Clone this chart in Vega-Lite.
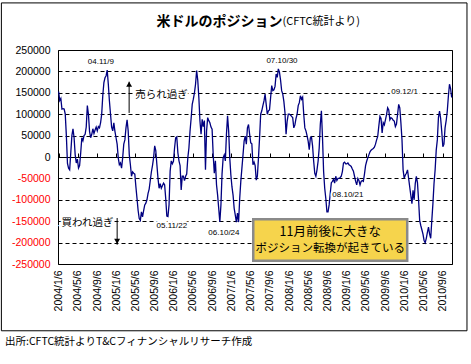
{
"$schema": "https://vega.github.io/schema/vega-lite/v6.json",
"width": 394,
"height": 214,
"autosize": {"type": "none"},
"padding": {"left": 58, "top": 50, "right": 19, "bottom": 100},
"background": "white",
"config": {"view": {"stroke": "black", "strokeWidth": 1}, "font": "Liberation Sans", "axis": {"labelOverlap": false, "labelBound": false, "labelFlush": false}},
"datasets": {
"pos": [
{"date":"2004-01-06","value":153000},{"date":"2004-01-13","value":132000},{"date":"2004-01-20","value":137000},{"date":"2004-01-27","value":112000},{"date":"2004-02-03","value":113000},{"date":"2004-02-10","value":112000},{"date":"2004-02-17","value":100000},{"date":"2004-02-24","value":50000},{"date":"2004-03-02","value":-15000},{"date":"2004-03-09","value":-26000},{"date":"2004-03-16","value":-30000},{"date":"2004-03-23","value":10000},{"date":"2004-03-30","value":50000},{"date":"2004-04-06","value":66000},{"date":"2004-04-13","value":45000},{"date":"2004-04-20","value":5000},{"date":"2004-04-27","value":-14000},{"date":"2004-05-04","value":-5000},{"date":"2004-05-11","value":-26000},{"date":"2004-05-18","value":-20000},{"date":"2004-05-25","value":10000},{"date":"2004-06-01","value":45000},{"date":"2004-06-08","value":38000},{"date":"2004-06-15","value":50000},{"date":"2004-06-22","value":53000},{"date":"2004-06-29","value":70000},{"date":"2004-07-06","value":120000},{"date":"2004-07-13","value":100000},{"date":"2004-07-20","value":60000},{"date":"2004-07-27","value":45000},{"date":"2004-08-03","value":53000},{"date":"2004-08-10","value":66000},{"date":"2004-08-17","value":55000},{"date":"2004-08-24","value":63000},{"date":"2004-08-31","value":70000},{"date":"2004-09-07","value":61000},{"date":"2004-09-14","value":71000},{"date":"2004-09-21","value":68000},{"date":"2004-09-28","value":80000},{"date":"2004-10-05","value":100000},{"date":"2004-10-12","value":144000},{"date":"2004-10-19","value":174000},{"date":"2004-10-26","value":185000},{"date":"2004-11-02","value":190000},{"date":"2004-11-09","value":203000},{"date":"2004-11-16","value":170000},{"date":"2004-11-23","value":131000},{"date":"2004-11-30","value":100000},{"date":"2004-12-07","value":70000},{"date":"2004-12-14","value":61000},{"date":"2004-12-21","value":80000},{"date":"2004-12-28","value":60000},
{"date":"2005-01-04","value":45000},{"date":"2005-01-11","value":30000},{"date":"2005-01-18","value":-2000},{"date":"2005-01-25","value":-18000},{"date":"2005-02-01","value":-14000},{"date":"2005-02-08","value":-26000},{"date":"2005-02-15","value":-2000},{"date":"2005-02-22","value":30000},{"date":"2005-03-01","value":40000},{"date":"2005-03-08","value":68000},{"date":"2005-03-15","value":87000},{"date":"2005-03-22","value":61000},{"date":"2005-03-29","value":5000},{"date":"2005-04-05","value":-18000},{"date":"2005-04-12","value":-45000},{"date":"2005-04-19","value":-35000},{"date":"2005-04-26","value":-38000},{"date":"2005-05-03","value":-40000},{"date":"2005-05-10","value":-70000},{"date":"2005-05-17","value":-97000},{"date":"2005-05-24","value":-125000},{"date":"2005-05-31","value":-144000},{"date":"2005-06-07","value":-148000},{"date":"2005-06-14","value":-128000},{"date":"2005-06-21","value":-140000},{"date":"2005-06-28","value":-125000},{"date":"2005-07-05","value":-112000},{"date":"2005-07-12","value":-108000},{"date":"2005-07-19","value":-100000},{"date":"2005-07-26","value":-85000},{"date":"2005-08-02","value":-75000},{"date":"2005-08-09","value":-55000},{"date":"2005-08-16","value":-35000},{"date":"2005-08-23","value":-20000},{"date":"2005-08-30","value":-2000},{"date":"2005-09-06","value":26000},{"date":"2005-09-13","value":15000},{"date":"2005-09-20","value":-18000},{"date":"2005-09-27","value":-50000},{"date":"2005-10-04","value":-73000},{"date":"2005-10-11","value":-62000},{"date":"2005-10-18","value":-73000},{"date":"2005-10-25","value":-67000},{"date":"2005-11-01","value":-61000},{"date":"2005-11-08","value":-65000},{"date":"2005-11-15","value":-97000},{"date":"2005-11-22","value":-138000},{"date":"2005-11-29","value":-139000},{"date":"2005-12-06","value":-112000},{"date":"2005-12-13","value":-33000},{"date":"2005-12-20","value":-9000},{"date":"2005-12-27","value":-16000},
{"date":"2006-01-03","value":-10000},{"date":"2006-01-10","value":21000},{"date":"2006-01-17","value":45000},{"date":"2006-01-24","value":47000},{"date":"2006-01-31","value":10000},{"date":"2006-02-07","value":-9000},{"date":"2006-02-14","value":-20000},{"date":"2006-02-21","value":-77000},{"date":"2006-02-28","value":-45000},{"date":"2006-03-07","value":-45000},{"date":"2006-03-14","value":-55000},{"date":"2006-03-21","value":-45000},{"date":"2006-03-28","value":-40000},{"date":"2006-04-04","value":-2000},{"date":"2006-04-11","value":21000},{"date":"2006-04-18","value":60000},{"date":"2006-04-25","value":90000},{"date":"2006-05-02","value":123000},{"date":"2006-05-09","value":135000},{"date":"2006-05-16","value":150000},{"date":"2006-05-23","value":170000},{"date":"2006-05-30","value":202000},{"date":"2006-06-06","value":180000},{"date":"2006-06-13","value":139000},{"date":"2006-06-20","value":84000},{"date":"2006-06-27","value":53000},{"date":"2006-07-04","value":88000},{"date":"2006-07-11","value":71000},{"date":"2006-07-18","value":85000},{"date":"2006-07-25","value":-30000},{"date":"2006-08-01","value":61000},{"date":"2006-08-08","value":92000},{"date":"2006-08-15","value":85000},{"date":"2006-08-22","value":80000},{"date":"2006-08-29","value":70000},{"date":"2006-09-05","value":65000},{"date":"2006-09-12","value":5000},{"date":"2006-09-19","value":-38000},{"date":"2006-09-26","value":-9000},{"date":"2006-10-03","value":-65000},{"date":"2006-10-10","value":-89000},{"date":"2006-10-17","value":-120000},{"date":"2006-10-24","value":-152000},{"date":"2006-10-31","value":-112000},{"date":"2006-11-07","value":-40000},{"date":"2006-11-14","value":-2000},{"date":"2006-11-21","value":5000},{"date":"2006-11-28","value":-9000},{"date":"2006-12-05","value":53000},{"date":"2006-12-12","value":96000},{"date":"2006-12-19","value":61000},{"date":"2006-12-26","value":-2000},
{"date":"2007-01-02","value":-42000},{"date":"2007-01-09","value":-70000},{"date":"2007-01-16","value":-89000},{"date":"2007-01-23","value":-120000},{"date":"2007-01-30","value":-136000},{"date":"2007-02-06","value":-152000},{"date":"2007-02-13","value":-131000},{"date":"2007-02-20","value":-152000},{"date":"2007-02-27","value":-97000},{"date":"2007-03-06","value":-57000},{"date":"2007-03-13","value":-26000},{"date":"2007-03-20","value":5000},{"date":"2007-03-27","value":37000},{"date":"2007-04-03","value":49000},{"date":"2007-04-10","value":30000},{"date":"2007-04-17","value":68000},{"date":"2007-04-24","value":76000},{"date":"2007-05-01","value":53000},{"date":"2007-05-08","value":33000},{"date":"2007-05-15","value":31000},{"date":"2007-05-22","value":-18000},{"date":"2007-05-29","value":-12000},{"date":"2007-06-05","value":-20000},{"date":"2007-06-12","value":-54000},{"date":"2007-06-19","value":-45000},{"date":"2007-06-26","value":-2000},{"date":"2007-07-03","value":45000},{"date":"2007-07-10","value":100000},{"date":"2007-07-17","value":108000},{"date":"2007-07-24","value":120000},{"date":"2007-07-31","value":131000},{"date":"2007-08-07","value":147000},{"date":"2007-08-14","value":123000},{"date":"2007-08-21","value":100000},{"date":"2007-08-28","value":108000},{"date":"2007-09-04","value":110000},{"date":"2007-09-11","value":139000},{"date":"2007-09-18","value":167000},{"date":"2007-09-25","value":155000},{"date":"2007-10-02","value":157000},{"date":"2007-10-09","value":165000},{"date":"2007-10-16","value":194000},{"date":"2007-10-23","value":186000},{"date":"2007-10-30","value":206000},{"date":"2007-11-06","value":198000},{"date":"2007-11-13","value":180000},{"date":"2007-11-20","value":155000},{"date":"2007-11-27","value":147000},{"date":"2007-12-04","value":130000},{"date":"2007-12-11","value":104000},{"date":"2007-12-18","value":53000},{"date":"2007-12-25","value":84000},
{"date":"2008-01-01","value":100000},{"date":"2008-01-08","value":100000},{"date":"2008-01-15","value":98000},{"date":"2008-01-22","value":95000},{"date":"2008-01-29","value":92000},{"date":"2008-02-05","value":68000},{"date":"2008-02-12","value":75000},{"date":"2008-02-19","value":90000},{"date":"2008-02-26","value":100000},{"date":"2008-03-04","value":120000},{"date":"2008-03-11","value":127000},{"date":"2008-03-18","value":143000},{"date":"2008-03-25","value":135000},{"date":"2008-04-01","value":140000},{"date":"2008-04-08","value":100000},{"date":"2008-04-15","value":68000},{"date":"2008-04-22","value":61000},{"date":"2008-04-29","value":50000},{"date":"2008-05-06","value":37000},{"date":"2008-05-13","value":17000},{"date":"2008-05-20","value":45000},{"date":"2008-05-27","value":47000},{"date":"2008-06-03","value":26000},{"date":"2008-06-10","value":-10000},{"date":"2008-06-17","value":-38000},{"date":"2008-06-24","value":-45000},{"date":"2008-07-01","value":-30000},{"date":"2008-07-08","value":-10000},{"date":"2008-07-15","value":21000},{"date":"2008-07-22","value":76000},{"date":"2008-07-29","value":108000},{"date":"2008-08-05","value":45000},{"date":"2008-08-12","value":-34000},{"date":"2008-08-19","value":-73000},{"date":"2008-08-26","value":-97000},{"date":"2008-09-02","value":-128000},{"date":"2008-09-09","value":-128000},{"date":"2008-09-16","value":-112000},{"date":"2008-09-23","value":-85000},{"date":"2008-09-30","value":-60000},{"date":"2008-10-07","value":-57000},{"date":"2008-10-14","value":-52000},{"date":"2008-10-21","value":-61000},{"date":"2008-10-28","value":-45000},{"date":"2008-11-04","value":-55000},{"date":"2008-11-11","value":-50000},{"date":"2008-11-18","value":-50000},{"date":"2008-11-25","value":-48000},{"date":"2008-12-02","value":-45000},{"date":"2008-12-09","value":-34000},{"date":"2008-12-16","value":-14000},{"date":"2008-12-23","value":-12000},{"date":"2008-12-30","value":-16000},
{"date":"2009-01-06","value":-16000},{"date":"2009-01-13","value":-14000},{"date":"2009-01-20","value":-18000},{"date":"2009-01-27","value":-20000},{"date":"2009-02-03","value":-22000},{"date":"2009-02-10","value":-28000},{"date":"2009-02-17","value":-33000},{"date":"2009-02-24","value":-45000},{"date":"2009-03-03","value":-57000},{"date":"2009-03-10","value":-65000},{"date":"2009-03-17","value":-50000},{"date":"2009-03-24","value":-55000},{"date":"2009-03-31","value":-65000},{"date":"2009-04-07","value":-57000},{"date":"2009-04-14","value":-55000},{"date":"2009-04-21","value":-57000},{"date":"2009-04-28","value":-40000},{"date":"2009-05-05","value":-20000},{"date":"2009-05-12","value":-10000},{"date":"2009-05-19","value":-2000},{"date":"2009-05-26","value":5000},{"date":"2009-06-02","value":12000},{"date":"2009-06-09","value":16000},{"date":"2009-06-16","value":18000},{"date":"2009-06-23","value":20000},{"date":"2009-06-30","value":23000},{"date":"2009-07-07","value":30000},{"date":"2009-07-14","value":40000},{"date":"2009-07-21","value":48000},{"date":"2009-07-28","value":72000},{"date":"2009-08-04","value":95000},{"date":"2009-08-11","value":90000},{"date":"2009-08-18","value":56000},{"date":"2009-08-25","value":80000},{"date":"2009-09-01","value":75000},{"date":"2009-09-08","value":87000},{"date":"2009-09-15","value":99000},{"date":"2009-09-22","value":115000},{"date":"2009-09-29","value":110000},{"date":"2009-10-06","value":87000},{"date":"2009-10-13","value":92000},{"date":"2009-10-20","value":90000},{"date":"2009-10-27","value":86000},{"date":"2009-11-03","value":84000},{"date":"2009-11-10","value":71000},{"date":"2009-11-17","value":77000},{"date":"2009-11-24","value":100000},{"date":"2009-12-01","value":123000},{"date":"2009-12-08","value":115000},{"date":"2009-12-15","value":80000},{"date":"2009-12-22","value":40000},{"date":"2009-12-29","value":-30000},
{"date":"2010-01-05","value":-50000},{"date":"2010-01-12","value":-42000},{"date":"2010-01-19","value":-38000},{"date":"2010-01-26","value":-30000},{"date":"2010-02-02","value":-50000},{"date":"2010-02-09","value":-70000},{"date":"2010-02-16","value":-90000},{"date":"2010-02-23","value":-109000},{"date":"2010-03-02","value":-78000},{"date":"2010-03-09","value":-100000},{"date":"2010-03-16","value":-62000},{"date":"2010-03-23","value":-45000},{"date":"2010-03-30","value":-60000},{"date":"2010-04-06","value":-100000},{"date":"2010-04-13","value":-148000},{"date":"2010-04-20","value":-160000},{"date":"2010-04-27","value":-170000},{"date":"2010-05-04","value":-180000},{"date":"2010-05-11","value":-195000},{"date":"2010-05-18","value":-200000},{"date":"2010-05-25","value":-190000},{"date":"2010-06-01","value":-176000},{"date":"2010-06-08","value":-164000},{"date":"2010-06-15","value":-180000},{"date":"2010-06-22","value":-190000},{"date":"2010-06-29","value":-148000},{"date":"2010-07-06","value":-109000},{"date":"2010-07-13","value":-62000},{"date":"2010-07-20","value":-30000},{"date":"2010-07-27","value":16000},{"date":"2010-08-03","value":40000},{"date":"2010-08-10","value":92000},{"date":"2010-08-17","value":107000},{"date":"2010-08-24","value":90000},{"date":"2010-08-31","value":60000},{"date":"2010-09-07","value":24000},{"date":"2010-09-14","value":30000},{"date":"2010-09-21","value":68000},{"date":"2010-09-28","value":85000},{"date":"2010-10-05","value":107000},{"date":"2010-10-12","value":142000},{"date":"2010-10-19","value":170000},{"date":"2010-10-26","value":160000},{"date":"2010-11-02","value":139000}
],
"dates": [
{"date":"2004-09-30","value":222000,"label":"04.11/9"},
{"date":"2007-11-22","value":225000,"label":"07.10/30"},
{"date":"2010-01-07","value":151000,"label":"09.12/1"},
{"date":"2005-12-24","value":-160500,"label":"05.11/22"},
{"date":"2006-11-19","value":-178000,"label":"06.10/24"},
{"date":"2009-01-13","value":-88800,"label":"08.10/21"}
],
"notes": [
{"date":"2005-10-19","value":145000,"label":"売られ過ぎ"},
{"date":"2004-07-07","value":-155000,"label":"買われ過ぎ"}
]
},
"resolve": {"axis": {"x": "independent"}},
"layer": [
{
"layer": [
{
"data": {"values": [{}]},
"mark": {"type": "rect", "fillOpacity": 0, "stroke": "black", "strokeWidth": 1},
"encoding": {
"x": {"datum": {"year": 2003, "month": 1, "date": 8}, "type": "temporal", "scale": {"domain": [{"year": 2004, "month": 1, "date": 2}, {"year": 2010, "month": 11, "date": 4}]}},
"x2": {"datum": {"year": 2011, "month": 2, "date": 7}},
"y": {"datum": 360000, "type": "quantitative", "scale": {"domain": [-250000, 250000], "nice": false}},
"y2": {"datum": -406000}
}
},
{
"data": {"name": "pos"},
"mark": {"type": "line", "color": "#000080", "strokeWidth": 1.3},
"encoding": {
"x": {"field": "date", "type": "temporal",
"scale": {"domain": [{"year": 2004, "month": 1, "date": 2}, {"year": 2010, "month": 11, "date": 4}]},
"axis": {"orient": "bottom", "title": null, "grid": false, "ticks": false, "domain": false, "tickCount": 40,
"format": "%Y/%-m/%-d", "labelAngle": 270, "labelFontSize": 10.5, "labelPadding": 6, "labelOverlap": false, "labelColor": "black",
"values": [{"year":2004,"month":1,"date":6},{"year":2004,"month":5,"date":6},{"year":2004,"month":9,"date":6},{"year":2005,"month":1,"date":6},{"year":2005,"month":5,"date":6},{"year":2005,"month":9,"date":6},{"year":2006,"month":1,"date":6},{"year":2006,"month":5,"date":6},{"year":2006,"month":9,"date":6},{"year":2007,"month":1,"date":6},{"year":2007,"month":5,"date":6},{"year":2007,"month":9,"date":6},{"year":2008,"month":1,"date":6},{"year":2008,"month":5,"date":6},{"year":2008,"month":9,"date":6},{"year":2009,"month":1,"date":6},{"year":2009,"month":5,"date":6},{"year":2009,"month":9,"date":6},{"year":2010,"month":1,"date":6},{"year":2010,"month":5,"date":6},{"year":2010,"month":9,"date":6}]}},
"y": {"field": "value", "type": "quantitative",
"scale": {"domain": [-250000, 250000], "nice": false},
"axis": {"title": null, "ticks": false, "domain": false, "labelPadding": 8, "labelFontSize": 10.5, "labelOverlap": false, "tickCount": 20,
"values": [-250000,-200000,-150000,-100000,-50000,0,50000,100000,150000,200000,250000],
"labelExpr": "'' + datum.value",
"labelColor": {"condition": {"test": "datum.value < 0", "value": "#ff0000"}, "value": "black"},
"grid": true, "gridColor": "black", "gridDash": [4, 3], "gridOpacity": 1, "gridWidth": 1}}
}
},
{
"data": {"values": [{}]},
"mark": {"type": "rect", "fill": "#F6D44C", "stroke": "#8a8a8a", "strokeWidth": 2.5},
"encoding": {
"x": {"datum": {"year": 2007, "month": 5, "date": 24}, "type": "temporal", "scale": {"domain": [{"year": 2004, "month": 1, "date": 2}, {"year": 2010, "month": 11, "date": 4}]}},
"x2": {"datum": {"year": 2010, "month": 1, "date": 24}},
"y": {"datum": -145500, "type": "quantitative", "scale": {"domain": [-250000, 250000], "nice": false}},
"y2": {"datum": -242200}
}
},
{
"data": {"values": [{}]},
"mark": {"type": "text", "text": "11月前後に大きな", "font": "Noto Sans CJK JP", "fontSize": 12.5, "align": "center", "baseline": "middle", "color": "black"},
"encoding": {
"x": {"datum": {"year": 2008, "month": 9, "date": 23}, "type": "temporal", "scale": {"domain": [{"year": 2004, "month": 1, "date": 2}, {"year": 2010, "month": 11, "date": 4}]}},
"y": {"datum": -175000, "type": "quantitative", "scale": {"domain": [-250000, 250000], "nice": false}}
}
},
{
"data": {"values": [{}]},
"mark": {"type": "text", "text": "ポジション転換が起きている", "font": "Noto Sans CJK JP", "fontSize": 11.5, "align": "center", "baseline": "middle", "color": "black"},
"encoding": {
"x": {"datum": {"year": 2008, "month": 9, "date": 23}, "type": "temporal", "scale": {"domain": [{"year": 2004, "month": 1, "date": 2}, {"year": 2010, "month": 11, "date": 4}]}},
"y": {"datum": -215000, "type": "quantitative", "scale": {"domain": [-250000, 250000], "nice": false}}
}
},
{
"data": {"name": "dates"},
"mark": {"type": "text", "fontSize": 8, "align": "center", "baseline": "middle", "stroke": "white", "strokeWidth": 4, "color": "white"},
"encoding": {
"x": {"field": "date", "type": "temporal", "scale": {"domain": [{"year": 2004, "month": 1, "date": 2}, {"year": 2010, "month": 11, "date": 4}]}},
"y": {"field": "value", "type": "quantitative", "scale": {"domain": [-250000, 250000], "nice": false}},
"text": {"field": "label"}
}
},
{
"data": {"name": "dates"},
"mark": {"type": "text", "fontSize": 8, "align": "center", "baseline": "middle", "color": "black"},
"encoding": {
"x": {"field": "date", "type": "temporal", "scale": {"domain": [{"year": 2004, "month": 1, "date": 2}, {"year": 2010, "month": 11, "date": 4}]}},
"y": {"field": "value", "type": "quantitative", "scale": {"domain": [-250000, 250000], "nice": false}},
"text": {"field": "label"}
}
},
{
"data": {"name": "notes"},
"mark": {"type": "text", "font": "Noto Sans CJK JP", "fontSize": 10.5, "align": "center", "baseline": "middle", "stroke": "white", "strokeWidth": 4, "color": "white"},
"encoding": {
"x": {"field": "date", "type": "temporal", "scale": {"domain": [{"year": 2004, "month": 1, "date": 2}, {"year": 2010, "month": 11, "date": 4}]}},
"y": {"field": "value", "type": "quantitative", "scale": {"domain": [-250000, 250000], "nice": false}},
"text": {"field": "label"}
}
},
{
"data": {"name": "notes"},
"mark": {"type": "text", "font": "Noto Sans CJK JP", "fontSize": 10.5, "align": "center", "baseline": "middle", "color": "black"},
"encoding": {
"x": {"field": "date", "type": "temporal", "scale": {"domain": [{"year": 2004, "month": 1, "date": 2}, {"year": 2010, "month": 11, "date": 4}]}},
"y": {"field": "value", "type": "quantitative", "scale": {"domain": [-250000, 250000], "nice": false}},
"text": {"field": "label"}
}
},
{
"data": {"values": [{}]},
"mark": {"type": "rule", "color": "black", "strokeWidth": 1},
"encoding": {
"x": {"datum": {"year": 2005, "month": 3, "date": 28}, "type": "temporal", "scale": {"domain": [{"year": 2004, "month": 1, "date": 2}, {"year": 2010, "month": 11, "date": 4}]}},
"y": {"datum": 103000, "type": "quantitative", "scale": {"domain": [-250000, 250000], "nice": false}},
"y2": {"datum": 176000}
}
},
{
"data": {"values": [{}]},
"mark": {"type": "point", "shape": "triangle-up", "filled": true, "color": "black", "size": 35, "opacity": 1},
"encoding": {
"x": {"datum": {"year": 2005, "month": 3, "date": 28}, "type": "temporal", "scale": {"domain": [{"year": 2004, "month": 1, "date": 2}, {"year": 2010, "month": 11, "date": 4}]}},
"y": {"datum": 170000, "type": "quantitative", "scale": {"domain": [-250000, 250000], "nice": false}}
}
},
{
"data": {"values": [{}]},
"mark": {"type": "rule", "color": "black", "strokeWidth": 1},
"encoding": {
"x": {"datum": {"year": 2005, "month": 1, "date": 11}, "type": "temporal", "scale": {"domain": [{"year": 2004, "month": 1, "date": 2}, {"year": 2010, "month": 11, "date": 4}]}},
"y": {"datum": -142500, "type": "quantitative", "scale": {"domain": [-250000, 250000], "nice": false}},
"y2": {"datum": -205000}
}
},
{
"data": {"values": [{}]},
"mark": {"type": "point", "shape": "triangle-down", "filled": true, "color": "black", "size": 35, "opacity": 1},
"encoding": {
"x": {"datum": {"year": 2005, "month": 1, "date": 11}, "type": "temporal", "scale": {"domain": [{"year": 2004, "month": 1, "date": 2}, {"year": 2010, "month": 11, "date": 4}]}},
"y": {"datum": -197000, "type": "quantitative", "scale": {"domain": [-250000, 250000], "nice": false}}
}
},
{
"data": {"values": [{}]},
"mark": {"type": "text", "text": "米ドルのポジション", "font": "Noto Sans CJK JP", "fontSize": 14, "fontWeight": "bold", "align": "right", "baseline": "middle", "color": "black"},
"encoding": {
"x": {"datum": {"year": 2007, "month": 11, "date": 25}, "type": "temporal", "scale": {"domain": [{"year": 2004, "month": 1, "date": 2}, {"year": 2010, "month": 11, "date": 4}]}},
"y": {"datum": 316000, "type": "quantitative", "scale": {"domain": [-250000, 250000], "nice": false}}
}
},
{
"data": {"values": [{}]},
"mark": {"type": "text", "text": "(CFTC統計より)", "font": "Noto Sans CJK JP", "fontSize": 11, "align": "left", "baseline": "middle", "color": "black"},
"encoding": {
"x": {"datum": {"year": 2007, "month": 11, "date": 25}, "type": "temporal", "scale": {"domain": [{"year": 2004, "month": 1, "date": 2}, {"year": 2010, "month": 11, "date": 4}]}},
"y": {"datum": 316000, "type": "quantitative", "scale": {"domain": [-250000, 250000], "nice": false}}
}
},
{
"data": {"values": [{}]},
"mark": {"type": "text", "text": "出所:CFTC統計よりT&Cフィナンシャルリサーチ作成", "font": "Noto Sans CJK JP", "fontSize": 10.5, "align": "left", "baseline": "middle", "color": "black"},
"encoding": {
"x": {"datum": {"year": 2003, "month": 1, "date": 31}, "type": "temporal", "scale": {"domain": [{"year": 2004, "month": 1, "date": 2}, {"year": 2010, "month": 11, "date": 4}]}},
"y": {"datum": -432000, "type": "quantitative", "scale": {"domain": [-250000, 250000], "nice": false}}
}
}
]
},
{
"data": {"name": "pos"},
"mark": {"type": "point", "opacity": 0},
"encoding": {
"x": {"field": "date", "type": "temporal",
"scale": {"domain": [{"year": 2004, "month": 1, "date": 2}, {"year": 2010, "month": 11, "date": 4}]},
"axis": {"orient": "top", "offset": -107, "title": null, "labels": false, "grid": false, "ticks": true, "tickSize": 4, "tickColor": "black", "tickWidth": 1, "tickCount": 40,
"domain": true, "domainColor": "black", "domainWidth": 1,
"values": [{"year":2004,"month":1,"date":6},{"year":2004,"month":5,"date":6},{"year":2004,"month":9,"date":6},{"year":2005,"month":1,"date":6},{"year":2005,"month":5,"date":6},{"year":2005,"month":9,"date":6},{"year":2006,"month":1,"date":6},{"year":2006,"month":5,"date":6},{"year":2006,"month":9,"date":6},{"year":2007,"month":1,"date":6},{"year":2007,"month":5,"date":6},{"year":2007,"month":9,"date":6},{"year":2008,"month":1,"date":6},{"year":2008,"month":5,"date":6},{"year":2008,"month":9,"date":6},{"year":2009,"month":1,"date":6},{"year":2009,"month":5,"date":6},{"year":2009,"month":9,"date":6},{"year":2010,"month":1,"date":6},{"year":2010,"month":5,"date":6},{"year":2010,"month":9,"date":6}]}},
"y": {"field": "value", "type": "quantitative", "scale": {"domain": [-250000, 250000], "nice": false}}
}
}
]
}
